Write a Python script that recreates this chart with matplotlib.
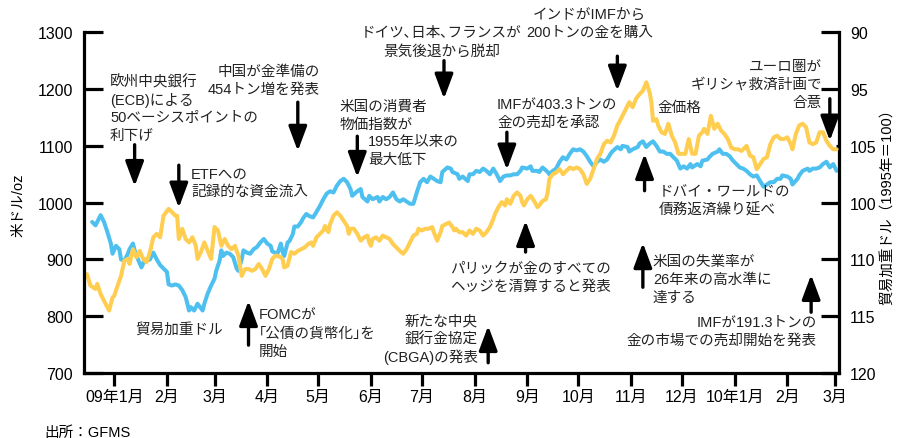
import numpy as np
import pandas as pd
import matplotlib
matplotlib.use("Agg")
import matplotlib.pyplot as plt

plt.rcParams['font.family'] = ['Liberation Sans', 'Noto Sans CJK JP', 'DejaVu Sans']

BASE = pd.Timestamp('2009-01-01')


def d(date):
    """Day offset from 2009-01-01."""
    return (pd.Timestamp(date) - BASE).days


# ---- data -------------------------------------------------------------
# gold price (USD/oz), observation day offsets from 2009-01-01
gold_day = [-16, -14, -11, -10, -8, -6, -3, -1, 0, 2, 4, 6, 8, 9, 11, 13, 15, 17, 19, 21,
            23, 25, 27, 29, 32, 34, 36, 37, 38, 40, 42, 44, 46, 48, 49, 51, 53, 55, 57, 59,
            61, 63, 65, 67, 69, 71, 73, 75, 77, 79, 81, 83, 85, 87, 89, 91, 93, 95, 98, 99,
            100, 102, 103, 104, 106, 108, 110, 112, 114, 116, 117, 119, 121, 123, 124, 126, 127, 129, 131, 133,
            135, 137, 138, 139, 141, 143, 145, 147, 149, 150, 151, 152, 154, 156, 158, 160, 162, 164, 166, 168,
            170, 172, 174, 176, 178, 179, 181, 183, 185, 187, 188, 190, 192, 193, 195, 197, 199, 200, 201, 203,
            205, 207, 209, 211, 213, 215, 217, 219, 221, 223, 224, 226, 228, 230, 231, 233, 235, 237, 239, 240,
            241, 243, 245, 247, 249, 250, 252, 254, 255, 256, 258, 260, 262, 264, 266, 268, 270, 272, 274, 276,
            278, 280, 282, 284, 286, 288, 290, 292, 294, 296, 298, 299, 301, 303, 305, 307, 309, 311, 313, 315,
            316, 317, 319, 320, 322, 324, 326, 328, 330, 332, 334, 336, 338, 340, 342, 344, 346, 347, 349, 351,
            353, 355, 357, 359, 361, 363, 365, 367, 369, 372, 374, 376, 378, 380, 382, 384, 386, 388, 390, 392,
            394, 396, 398, 399, 401, 403, 405, 407, 409, 411, 413, 415, 417, 419, 421, 423, 425]
gold_price = [874, 854, 848, 857, 839, 827, 810, 833, 836, 854, 871, 898, 901, 892, 918, 904, 915, 901, 895, 913,
              939, 945, 939, 977, 989, 983, 977, 977, 936, 954, 936, 930, 939, 924, 901, 913, 930, 915, 901, 957,
              951, 924, 936, 924, 918, 924, 907, 871, 883, 883, 880, 883, 892, 883, 871, 883, 901, 907, 904, 901,
              886, 889, 901, 913, 910, 915, 918, 921, 927, 930, 924, 939, 945, 951, 959, 948, 962, 977, 983, 977,
              968, 959, 945, 954, 954, 945, 933, 939, 942, 930, 924, 936, 939, 933, 942, 939, 936, 927, 921, 915,
              910, 918, 930, 942, 945, 954, 951, 954, 954, 957, 948, 933, 948, 959, 962, 965, 957, 951, 954, 948,
              948, 942, 951, 945, 954, 951, 942, 948, 957, 971, 980, 992, 1001, 995, 1006, 998, 1012, 1018, 1012, 1001,
              995, 1006, 1012, 1003, 992, 995, 1003, 1006, 1018, 1042, 1050, 1053, 1059, 1050, 1056, 1062, 1059, 1062, 1059, 1050,
              1033, 1042, 1059, 1077, 1086, 1103, 1109, 1106, 1118, 1136, 1147, 1153, 1165, 1177, 1168, 1183, 1191, 1197, 1212, 1194,
              1177, 1144, 1147, 1136, 1124, 1121, 1139, 1118, 1106, 1086, 1086, 1086, 1112, 1086, 1086, 1118, 1124, 1130, 1121, 1153,
              1130, 1139, 1127, 1121, 1112, 1097, 1094, 1094, 1091, 1100, 1083, 1080, 1059, 1068, 1077, 1080, 1103, 1115, 1118, 1112,
              1112, 1115, 1103, 1094, 1121, 1136, 1139, 1133, 1106, 1103, 1106, 1124, 1124, 1109, 1100, 1094, 1094]

# trade-weighted dollar index (1995 = 100)
usd_day = [-13, -11, -9, -8, -6, -4, -2, -1, 1, 3, 4, 6, 8, 9, 11, 12, 14, 16, 18, 19,
           21, 23, 25, 27, 29, 31, 32, 34, 36, 38, 40, 42, 43, 44, 45, 47, 49, 50, 52, 53,
           55, 57, 59, 60, 62, 63, 64, 66, 68, 70, 72, 73, 75, 76, 78, 80, 82, 84, 86, 88,
           90, 92, 93, 96, 98, 99, 100, 102, 103, 105, 106, 108, 110, 111, 113, 115, 117, 119, 121, 123,
           125, 127, 129, 131, 133, 135, 137, 139, 140, 143, 145, 146, 149, 150, 152, 155, 156, 158, 160, 162,
           164, 166, 168, 170, 172, 174, 176, 178, 180, 182, 184, 186, 188, 190, 192, 193, 196, 198, 199, 202,
           203, 205, 208, 209, 211, 213, 215, 217, 219, 221, 223, 225, 227, 229, 231, 233, 235, 237, 239, 240,
           243, 245, 246, 249, 250, 252, 255, 256, 258, 260, 262, 264, 266, 268, 270, 272, 274, 276, 278, 280,
           282, 284, 286, 288, 290, 292, 293, 296, 298, 299, 302, 303, 305, 308, 309, 311, 313, 315, 317, 319,
           321, 323, 325, 327, 329, 331, 333, 335, 337, 339, 340, 343, 345, 346, 349, 350, 352, 355, 356, 358,
           360, 362, 364, 366, 368, 370, 372, 374, 376, 378, 380, 382, 384, 386, 388, 390, 392, 393, 396, 398,
           399, 402, 403, 405, 408, 409, 411, 413, 415, 417, 419, 421, 423, 425]
usd_index = [106.7, 107.0, 106.4, 106.1, 106.7, 107.6, 108.6, 109.5, 108.8, 109.1, 110.0, 110.1, 109.5, 109.1, 108.6, 109.2, 110.0, 110.7, 110.0, 110.1,
             110.0, 109.4, 110.0, 110.5, 110.8, 111.1, 112.2, 112.3, 112.2, 112.3, 112.7, 113.3, 113.9, 114.5, 114.2, 114.5, 113.9, 114.1, 114.5, 113.9,
             113.0, 112.3, 111.7, 111.0, 110.1, 109.2, 109.7, 109.4, 109.5, 109.8, 110.8, 111.0, 110.0, 109.2, 109.4, 109.5, 109.1, 108.9, 108.5, 108.2,
             108.6, 108.8, 109.3, 109.5, 108.6, 109.3, 109.7, 108.5, 108.4, 107.8, 107.1, 107.1, 106.7, 106.4, 106.0, 106.2, 106.3, 105.8, 105.3, 104.7,
             104.2, 104.0, 104.1, 103.5, 103.1, 102.9, 103.2, 103.8, 104.4, 104.0, 103.8, 104.5, 104.9, 104.4, 104.7, 104.5, 104.9, 104.5, 104.7, 104.5,
             104.1, 104.7, 104.9, 104.7, 104.9, 105.1, 105.1, 104.1, 103.2, 102.9, 103.2, 102.7, 102.9, 103.1, 103.2, 102.3, 101.9, 102.0, 102.3, 102.5,
             102.9, 102.7, 103.1, 102.5, 102.5, 102.2, 102.3, 102.0, 102.2, 102.5, 102.0, 102.5, 103.1, 102.7, 102.6, 102.6, 102.5, 102.5, 102.2, 101.9,
             102.0, 101.8, 102.2, 102.2, 102.3, 101.9, 102.3, 102.5, 102.2, 102.0, 101.4, 101.0, 101.2, 100.7, 100.3, 100.4, 100.3, 100.5, 100.9, 101.4,
             101.8, 101.4, 101.2, 101.4, 101.2, 100.7, 100.5, 100.1, 100.3, 100.0, 100.1, 100.5, 100.3, 100.1, 99.8, 99.6, 100.1, 99.8, 99.6, 100.0,
             100.5, 100.5, 100.7, 100.7, 101.0, 101.3, 102.0, 101.8, 102.0, 101.6, 101.9, 101.6, 101.8, 101.3, 101.2, 101.0, 100.7, 100.5, 100.3, 100.7,
             100.7, 100.9, 101.3, 101.6, 101.9, 102.0, 102.2, 102.5, 102.7, 102.6, 103.1, 103.6, 103.4, 103.2, 103.2, 102.9, 102.9, 102.6, 102.7, 102.9,
             103.4, 102.9, 102.6, 102.2, 102.0, 102.2, 102.0, 102.0, 101.9, 101.6, 101.4, 101.9, 101.6, 102.2]

month_starts = pd.date_range('2009-01-01', '2010-03-01', freq='MS')
month_labels = ['09年1月', '2月', '3月', '4月', '5月', '6月', '7月', '8月', '9月',
                '10月', '11月', '12月', '10年1月', '2月', '3月']

gold_ticks = [700, 800, 900, 1000, 1100, 1200, 1300]
usd_ticks = [90, 95, 100, 105, 110, 115, 120]
usd_tick_labels = ['90', '95', '105', '100', '110', '115', '120']

# ---- figure -------------------------------------------------------------
GOLD = '#FFCD50'
BLUE = '#4DC0F0'
INK = '#222222'

fig = plt.figure(figsize=(9.01, 4.39), dpi=100)
ax = fig.add_axes([0.0932, 0.1481, 0.838, 0.776])
ax2 = ax.twinx()
ax.set_zorder(2)
ax2.set_zorder(1)
ax.patch.set_visible(False)

ax2.plot(usd_day, usd_index, color=BLUE, lw=2.9, solid_joinstyle='round', solid_capstyle='round')
ax.plot(gold_day, gold_price, color=GOLD, lw=2.9, solid_joinstyle='round', solid_capstyle='round')

ax.set_xlim(-17.8, 426.4)
ax.set_ylim(700, 1300)
ax2.set_ylim(120, 90)

tick_pos = [(m - BASE).days for m in month_starts]
ax.set_xticks(tick_pos)
ax.set_xticklabels(month_labels)
ax.set_yticks(gold_ticks)
ax2.set_yticks(usd_ticks)
ax2.set_yticklabels(usd_tick_labels)

SPW = 2.3
for a in (ax, ax2):
    for s in a.spines.values():
        s.set_visible(False)
        s.set_linewidth(SPW)
ax.spines['left'].set_visible(True)
ax.spines['bottom'].set_visible(True)
ax2.spines['right'].set_visible(True)

ax.tick_params(axis='y', direction='in', length=13.5, width=SPW, pad=8, labelsize=11.5)
ax.tick_params(axis='x', direction='out', length=9.5, width=SPW, pad=2, labelsize=11.5)
ax2.tick_params(axis='y', direction='in', length=13, width=SPW, pad=8, labelsize=11.5)
ax2.yaxis.get_major_ticks()[2].tick2line.set_markersize(2.5)

fig.text(0.020, 0.533, '米ドル/oz', rotation=90, ha='center', va='center', fontsize=10.5)
fig.text(0.9856, 0.537, '貿易加重ドル（1995年＝100）', rotation=90, ha='center', va='center', fontsize=10.5)
fig.text(0.049, 0.0137, '出所：GFMS', ha='left', va='center', fontsize=10.5)

# ---- event annotations ------------------------------------------------------
arrow_kw = dict(arrowstyle='-|>,head_length=1.5,head_width=0.56', mutation_scale=10,
                color='black', lw=2.4, shrinkA=0, shrinkB=0)

# (event date, arrow tail, arrow tip) on the gold price scale
arrows = [
    ('2009-01-13', 1102, 1029),
    ('2009-02-08', 1066, 991),
    ('2009-04-19', 1177, 1091),
    ('2009-05-24', 1117, 1045),
    ('2009-07-14', 1250, 1183),
    ('2009-10-24', 1258, 1197),
    ('2009-08-20', 1124, 1058),
    ('2010-02-26', 1183, 1109),
    ('2009-11-09', 1021, 1086),
    ('2009-08-31', 913, 968),
    ('2009-11-08', 851, 929),
    ('2010-02-15', 807, 873),
    ('2009-08-09', 718, 783),
    ('2009-03-21', 749, 827),
]
for date, tail, tip in arrows:
    x = d(date)
    ax.annotate('', xy=(x, tip), xytext=(x, tail), arrowprops=arrow_kw,
                annotation_clip=False, zorder=5)

# each note: anchor (day, price) of its first line, alignment, text lines
notes = [
    (-2.5, 1214, 'left', '欧州中央銀行\n(ECB)による\n50ベーシスポイントの\n利下げ'),
    (45.2, 1052, 'left', 'ETFへの\n記録的な資金流入'),
    (121, 1232, 'right', '中国が金準備の\n454トン増を発表'),
    (132.8, 1170, 'left', '米国の消費者\n物価指数が'),
    (149.3, 1109, 'left', '1955年以来の\n最大低下'),
    (192.5, 1300, 'center', 'ドイツ､日本､フランスが\n景気後退から脱却'),
    (279.6, 1332, 'center', 'インドがIMFから\n200トンの金を購入'),
    (225.2, 1174, 'left', 'IMFが403.3トンの\n金の売却を承認'),
    (319.9, 1168, 'left', '金価格'),
    (416.4, 1241, 'right', 'ユーロ圏が\nギリシャ救済計画で\n合意'),
    (320.5, 1020, 'left', 'ドバイ・ワールドの\n債務返済繰り延べ'),
    (197.5, 885, 'left', 'パリックが金のすべての\nヘッジを清算すると発表'),
    (316.9, 897, 'left', '米国の失業率が\n26年来の高水準に\n達する'),
    (413.4, 790, 'right', 'IMFが191.3トンの\n金の市場での売却開始を発表'),
    (214, 793, 'right', '新たな中央\n銀行金協定\n(CBGA)の発表'),
    (85.2, 802, 'left', 'FOMCが\n｢公債の貨幣化｣を\n開始'),
    (12.2, 777.5, 'left', '貿易加重ドル'),
]
LINE_STEP = 18 * 72 / 100  # line pitch in points
for x, y, ha, txt in notes:
    for k, line in enumerate(txt.split('\n')):
        ax.annotate(line, xy=(x, y), xytext=(0, -k * LINE_STEP), textcoords='offset points',
                    ha=ha, va='center', fontsize=10.5, color=INK,
                    annotation_clip=False, zorder=6)

fig.savefig('out.png', dpi=100)
